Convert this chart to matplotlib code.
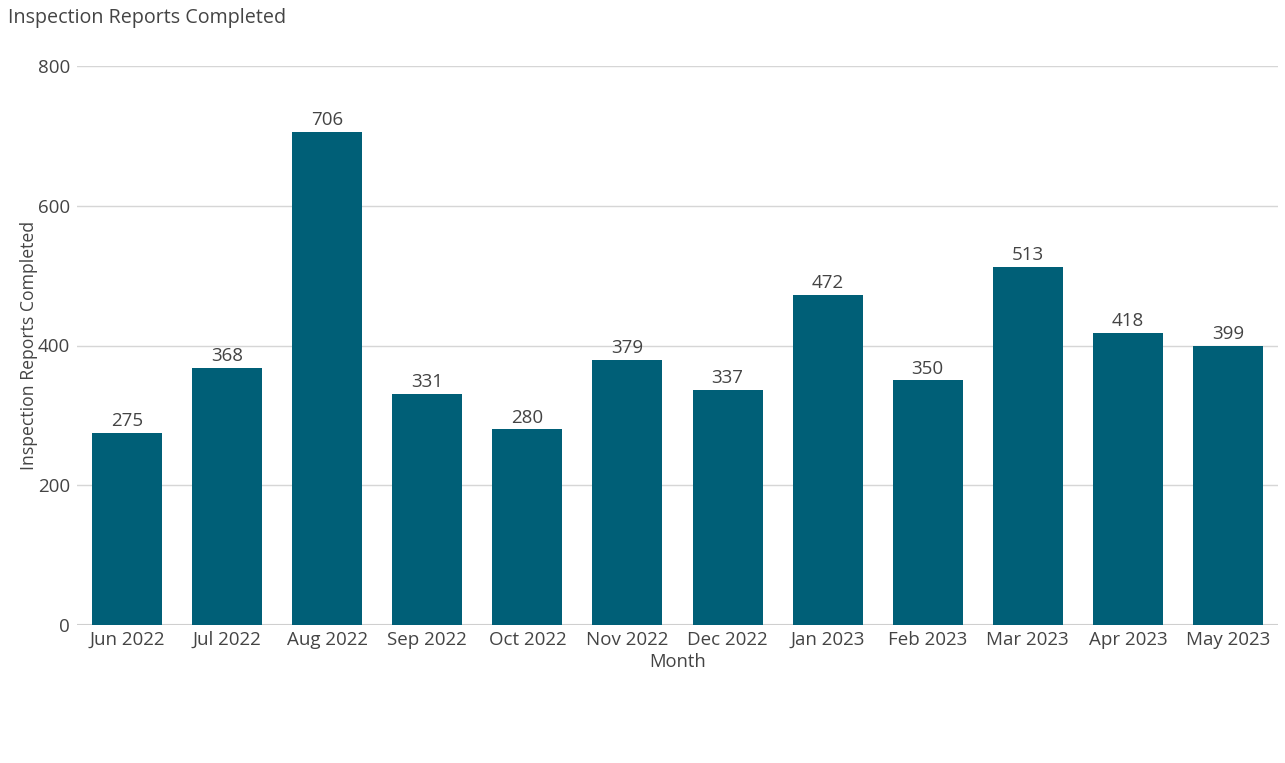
import matplotlib.pyplot as plt

months = ["Jun 2022", "Jul 2022", "Aug 2022", "Sep 2022", "Oct 2022", "Nov 2022",
          "Dec 2022", "Jan 2023", "Feb 2023", "Mar 2023", "Apr 2023", "May 2023"]
reports = [275, 368, 706, 331, 280, 379, 337, 472, 350, 513, 418, 399]

plt.rcParams['font.family'] = ['Open Sans', 'DejaVu Sans']
txt = "#444444"

fig = plt.figure(figsize=(12.85, 7.63), dpi=100)
ax = fig.add_axes([77 / 1285, 138 / 763, 1201 / 1285, 559 / 763])

x = range(len(months))
bars = ax.bar(x, reports, width=0.7, color="#005f77", zorder=3)
for b, v in zip(bars, reports):
    ax.text(b.get_x() + b.get_width() / 2, v + 4, str(v), ha="center", va="bottom",
            fontsize=13.5, color=txt, zorder=4)

ax.set_xlim(-0.5, len(months) - 0.5)
ax.set_ylim(0, 800)
ax.set_yticks([0, 200, 400, 600, 800])
ax.set_xticks(list(x))
ax.set_xticklabels(months)
ax.tick_params(axis="both", length=0, labelsize=13.5, labelcolor=txt)
ax.tick_params(axis="y", pad=5)
ax.tick_params(axis="x", pad=4)
ax.grid(axis="y", color="#d6d6d6", linewidth=1, zorder=0)
for s in ax.spines.values():
    s.set_visible(False)
ax.axhline(0, color="#cfcfcf", linewidth=1.5, zorder=2)

ax.set_xlabel("Month", fontsize=13.2, color=txt, labelpad=3)
ax.set_ylabel("Inspection Reports Completed", fontsize=12.7, color=txt, labelpad=0)
fig.text(8 / 1285, 1 - 18 / 763, "Inspection Reports Completed", fontsize=14.2,
         color=txt, ha="left", va="center")

fig.savefig("out.png", dpi=100)
